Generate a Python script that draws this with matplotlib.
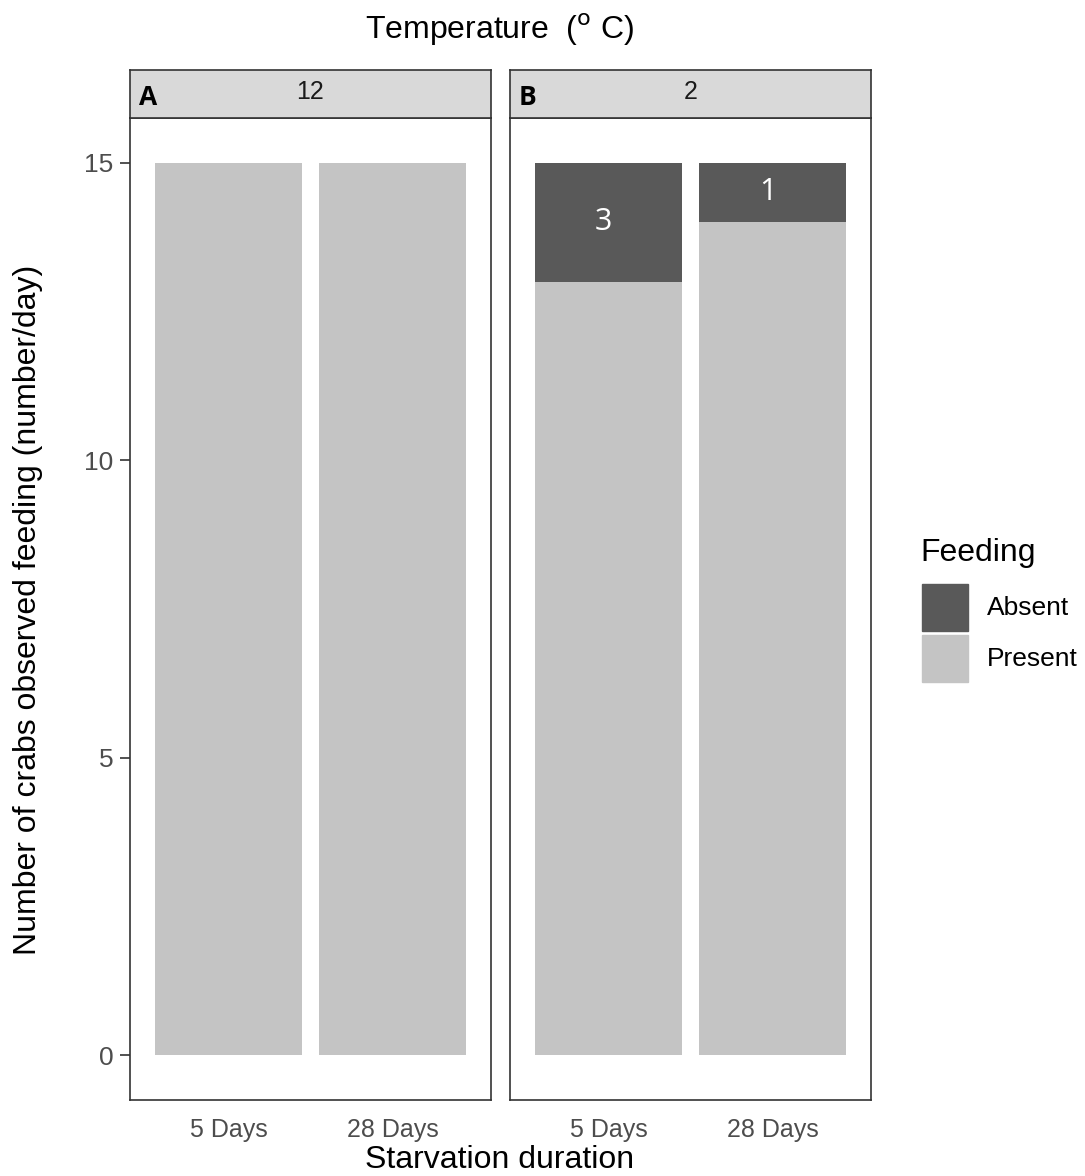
import matplotlib.pyplot as plt
from matplotlib.patches import Rectangle

# data
durations = ["5 Days", "28 Days"]
temperatures = ["12", "2"]
panel_tags = ["A", "B"]
present = {"12": [15, 15], "2": [13, 14]}
absent = {"12": [0, 0], "2": [2, 1]}
absent_labels = {"12": ["", ""], "2": ["3", "1"]}

col_absent = "#595959"
col_present = "#C4C4C4"
edge = "#333333"

plt.rcParams['font.family'] = ['Liberation Sans', 'DejaVu Sans']

W, H = 1085, 1176
fig = plt.figure(figsize=(W / 100, H / 100), dpi=100)


def fx(px):
    return px / W


def fy(py):
    return 1 - py / H


panel_left = [130, 510]
panel_w = 361
panel_top, panel_bot = 118, 1100
strip_top = 70

for i, temp in enumerate(temperatures):
    x0 = panel_left[i]
    ax = fig.add_axes([fx(x0), fy(panel_bot), fx(panel_w), (panel_bot - panel_top) / H])
    xs = list(range(1, len(durations) + 1))
    ax.bar(xs, present[temp], width=0.9, color=col_present, linewidth=0)
    ax.bar(xs, absent[temp], bottom=present[temp], width=0.9, color=col_absent, linewidth=0)
    for x, p, a, lab in zip(xs, present[temp], absent[temp], absent_labels[temp]):
        if lab:
            ax.text(x - 0.03, p + a / 2, lab, color="white", fontsize=22, ha="center", va="center",
                    family=["Open Sans", "DejaVu Sans"])
    ax.set_xlim(0.4, 2.6)
    ax.set_ylim(-0.75, 15.75)
    ax.set_xticks(xs)
    ax.set_xticklabels(durations)
    ax.set_yticks([0, 5, 10, 15])
    ax.tick_params(colors="#333333", labelcolor="#4D4D4D", width=1.2)
    ax.tick_params(axis="x", labelsize=18, length=0, pad=13)
    ax.tick_params(axis="y", labelsize=19, length=7, pad=5)
    if i > 0:
        ax.tick_params(axis="y", left=False, labelleft=False)
    for s in ax.spines.values():
        s.set_color(edge)
        s.set_linewidth(1.2)

    # strip
    sax = fig.add_axes([fx(x0), fy(panel_top), fx(panel_w), (panel_top - strip_top) / H])
    sax.set_facecolor("#D9D9D9")
    sax.set_xticks([])
    sax.set_yticks([])
    for s in sax.spines.values():
        s.set_color(edge)
        s.set_linewidth(1.2)
    sax.text(0.5, 0.55, temp, ha="center", va="center", fontsize=18, color="#1A1A1A",
             transform=sax.transAxes)
    sax.text(0.025, 0.42, panel_tags[i], ha="left", va="center", fontsize=19, fontweight="bold",
             color="black", transform=sax.transAxes, family=["Open Sans", "DejaVu Sans"])

fig.text(fx(500), fy(30), r"Temperature  ($^{\mathrm{o}}$ C)", ha="center", va="center", fontsize=23)
fig.text(fx(500), fy(1160), "Starvation duration", ha="center", va="center", fontsize=23)
fig.text(fx(28), fy(610), "Number of crabs observed feeding (number/day)", ha="center", va="center",
         rotation=90, fontsize=23)

# legend
fig.text(fx(920), fy(553), "Feeding", ha="left", va="center", fontsize=23)
for lab, col, top in [("Absent", col_absent, 584), ("Present", col_present, 635)]:
    fig.patches.append(Rectangle((fx(922), fy(top + 47)), fx(46), 47 / H, color=col,
                                 transform=fig.transFigure))
    fig.text(fx(987), fy(top + 24), lab, ha="left", va="center", fontsize=19)

fig.savefig("out.png", dpi=100)
